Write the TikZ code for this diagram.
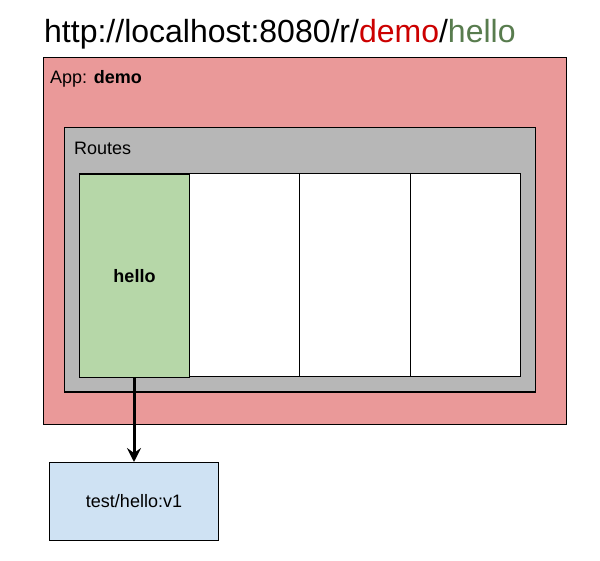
\documentclass[tikz,border=0pt]{standalone}
\usepackage{fontspec}
\setmainfont{Liberation Sans}
\usetikzlibrary{arrows.meta}
\definecolor{apppink}{HTML}{EA9999}
\definecolor{routegrey}{HTML}{B7B7B7}
\definecolor{hellogreen}{HTML}{B6D7A8}
\definecolor{imgblue}{HTML}{CFE2F3}
\definecolor{demored}{HTML}{CC0000}
\definecolor{hellotxt}{RGB}{88,124,78}
\begin{document}
\begin{tikzpicture}[x=1pt,y=-1pt,
  box/.style={draw=black,line width=1pt},
  lbl/.style={inner sep=0pt,anchor=base west,font=\fontsize{18}{21}\selectfont}]
\useasboundingbox (0,0) rectangle (600,561);
\fill[white] (0,0) rectangle (600,561);
\node[inner sep=0pt,anchor=base west,font=\fontsize{32}{38}\selectfont] (title) at (44,43)
  {http://localhost:8080/r/\textcolor{demored}{demo}/\textcolor{hellotxt}{hello}};
\draw[box,fill=apppink] (43,58) rectangle (566,424);
\node[lbl] (applbl) at (50,84) {App: \textbf{demo}};
\draw[box,fill=routegrey] (64,128) rectangle (535,392);
\node[lbl] (routelbl) at (74,155) {Routes};
\draw[box,fill=white] (79,174) rectangle (520,377);
\draw[box,fill=white] (189,174) rectangle (299,377);
\draw[box,fill=white] (299,174) rectangle (410,377);
\draw[box,fill=white] (410,174) rectangle (520,377);
\node[box,fill=hellogreen,minimum width=110pt,minimum height=203pt,anchor=north west,inner sep=0pt,font=\fontsize{18}{21}\selectfont\bfseries] (hello) at (79,174) {hello};
\node[box,fill=imgblue,minimum width=169pt,minimum height=78pt,anchor=north west,inner sep=0pt,font=\fontsize{18}{21}\selectfont] (img) at (49,462) {test/hello:v1};
\draw[line width=3pt,-{Stealth[length=14pt,width=14pt,inset=5pt]}] (hello.south -| 134,0) -- (img.north -| 134,0);
\end{tikzpicture}
\end{document}
